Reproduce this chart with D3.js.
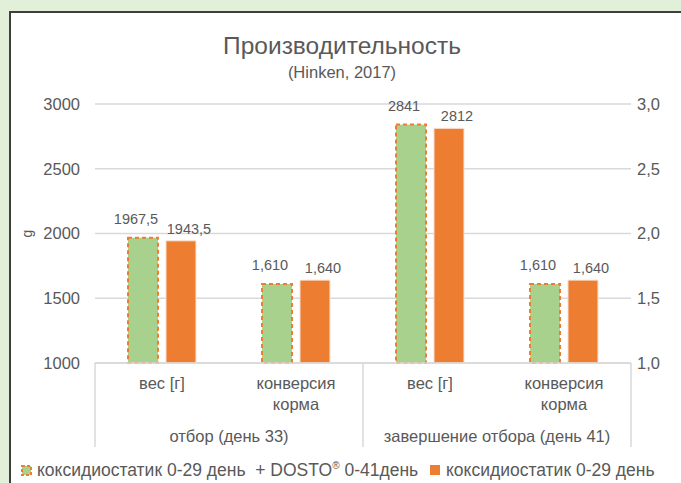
<!DOCTYPE html>
<html>
<head>
<meta charset="utf-8">
<script src="https://cdn.jsdelivr.net/npm/d3@7"></script>
<style>
  html, body { margin: 0; padding: 0; background: #e2efd9; }
  svg { display: block; font-family: 'Liberation Sans', Arial, sans-serif; }
</style>
</head>
<body>
<div id="chart"></div>
<script>
// data
const groups = ['отбор (день 33)', 'завершение отбора (день 41)'];
const categories = ['вес [г]', 'конверсия\nкорма', 'вес [г]', 'конверсия\nкорма'];
const categoryGroup = [0, 0, 1, 1];
const categoryAxis = ['left', 'right', 'left', 'right'];
const seriesNames = ['коксидиостатик 0-29 день  + DOSTO', 'коксидиостатик 0-29 день'];
const dostoValues = [1967.5, 1.61, 2841, 1.61];
const controlValues = [1943.5, 1.64, 2812, 1.64];
const leftTicks = [1000, 1500, 2000, 2500, 3000];
const rightTicks = [1.0, 1.5, 2.0, 2.5, 3.0];

const width = 681, height = 483;
const plot = { left: 95, right: 631, top: 104, bottom: 363 };
const textColor = '#595959';
const gridColor = '#d9d9d9';
const green = '#a9d18e';
const orange = '#ed7d31';

const svg = d3.select('#chart').append('svg')
  .attr('width', width)
  .attr('height', height);

// panel
svg.append('rect')
  .attr('x', 10).attr('y', 12)
  .attr('width', width).attr('height', height)
  .attr('fill', '#fff')
  .attr('stroke', '#3f3f3f')
  .attr('stroke-width', 2);

// title
svg.append('text')
  .attr('x', 342).attr('y', 54)
  .attr('text-anchor', 'middle')
  .attr('fill', textColor)
  .attr('font-size', 24.5)
  .text('Производительность');
svg.append('text')
  .attr('x', 342).attr('y', 78)
  .attr('text-anchor', 'middle')
  .attr('fill', textColor)
  .attr('font-size', 16.5)
  .text('(Hinken, 2017)');

// scales
const idx = d3.range(categories.length);
const x0 = d3.scaleBand().domain(idx).range([plot.left, plot.right]);
const x1 = d3.scaleBand().domain([0, 1]).range([0, x0.bandwidth()])
  .paddingInner(0.21).paddingOuter(0.87);
const yL = d3.scaleLinear().domain([1000, 3000]).range([plot.bottom, plot.top]);
const yR = d3.scaleLinear().domain([1, 3]).range([plot.bottom, plot.top]);
const yFor = (i) => (categoryAxis[i] === 'left' ? yL : yR);

// gridlines
svg.append('g')
  .selectAll('line')
  .data(leftTicks)
  .join('line')
  .attr('x1', plot.left).attr('x2', plot.right)
  .attr('y1', (d) => yL(d)).attr('y2', (d) => yL(d))
  .attr('stroke', gridColor)
  .attr('stroke-width', 1.5);

// left axis
const leftAxis = svg.append('g')
  .attr('transform', `translate(${plot.left - 15},0)`)
  .call(d3.axisLeft(yL).tickValues(leftTicks).tickFormat(d3.format('d')).tickSize(0).tickPadding(0));
leftAxis.select('.domain').remove();
leftAxis.selectAll('text')
  .attr('fill', textColor)
  .attr('font-size', 16.5)
  .attr('font-family', null);

// right axis
const fmtR = (d) => d.toFixed(1).replace('.', ',');
const rightAxis = svg.append('g')
  .attr('transform', `translate(${plot.right + 6},0)`)
  .call(d3.axisRight(yR).tickValues(rightTicks).tickFormat(fmtR).tickSize(0).tickPadding(0));
rightAxis.select('.domain').remove();
rightAxis.selectAll('text')
  .attr('fill', textColor)
  .attr('font-size', 16.5)
  .attr('font-family', null);

// y axis title
svg.append('text')
  .attr('transform', `translate(32,${yL(2000)}) rotate(-90)`)
  .attr('text-anchor', 'middle')
  .attr('fill', textColor)
  .attr('font-size', 14)
  .text('g');

// bars
const series = [
  { values: dostoValues, fill: green, stroke: orange, dash: '4,3', sw: 2, dx: -7, dy: -14 },
  { values: controlValues, fill: orange, stroke: '#fbe0cf', dash: null, sw: 1, dx: 8, dy: -7 },
];

const fmtVal = (v, i) => {
  if (categoryAxis[i] === 'right') return v.toFixed(3).replace('.', ',');
  return Number.isInteger(v) ? String(v) : v.toFixed(1).replace('.', ',');
};

series.forEach((s, si) => {
  const g = svg.append('g');
  g.selectAll('rect')
    .data(idx)
    .join('rect')
    .attr('x', (i) => x0(i) + x1(si))
    .attr('width', x1.bandwidth())
    .attr('y', (i) => yFor(i)(s.values[i]))
    .attr('height', (i) => plot.bottom - yFor(i)(s.values[i]))
    .attr('fill', s.fill)
    .attr('stroke', s.stroke)
    .attr('stroke-width', s.sw)
    .attr('stroke-dasharray', s.dash);

  g.selectAll('text')
    .data(idx)
    .join('text')
    .attr('x', (i) => x0(i) + x1(si) + x1.bandwidth() / 2 + s.dx)
    .attr('y', (i) => yFor(i)(s.values[i]) + s.dy)
    .attr('text-anchor', 'middle')
    .attr('fill', textColor)
    .attr('font-size', 14.5)
    .text((i) => fmtVal(s.values[i], i));
});

// multi-level category axis
const axisBottom = 447;
const boxes = svg.append('g')
  .attr('stroke', gridColor)
  .attr('stroke-width', 1.5);
boxes.append('line')
  .attr('x1', plot.left).attr('x2', plot.right)
  .attr('y1', plot.bottom).attr('y2', plot.bottom);
const groupEdges = [plot.left, x0(2), plot.right];
boxes.selectAll('line.sep')
  .data(groupEdges)
  .join('line')
  .attr('class', 'sep')
  .attr('x1', (d) => d).attr('x2', (d) => d)
  .attr('y1', plot.bottom).attr('y2', axisBottom);

const catText = svg.append('g')
  .attr('fill', textColor)
  .attr('font-size', 16.5)
  .attr('text-anchor', 'middle');
catText.selectAll('text')
  .data(idx)
  .join('text')
  .attr('x', (i) => x0(i) + x0.bandwidth() / 2)
  .attr('y', 389)
  .selectAll('tspan')
  .data((i) => categories[i].split('\n'))
  .join('tspan')
  .attr('x', function () { return d3.select(this.parentNode).attr('x'); })
  .attr('dy', (_, j) => (j ? 21 : 0))
  .text((d) => d);

svg.append('g')
  .attr('fill', textColor)
  .attr('font-size', 16.5)
  .attr('text-anchor', 'middle')
  .selectAll('text')
  .data(groups)
  .join('text')
  .attr('x', (_, gi) => {
    const members = idx.filter((i) => categoryGroup[i] === gi);
    return (x0(members[0]) + x0(members[members.length - 1]) + x0.bandwidth()) / 2;
  })
  .attr('y', 442)
  .text((d) => d);

// legend
const legend = svg.append('g').attr('font-size', 17.5).attr('fill', textColor);
legend.append('rect')
  .attr('x', 22).attr('y', 466).attr('width', 9).attr('height', 9)
  .attr('fill', green).attr('stroke', orange).attr('stroke-width', 2)
  .attr('stroke-dasharray', '3,2');
const t1 = legend.append('text').attr('x', 37).attr('y', 476)
  .attr('xml:space', 'preserve')
  .style('white-space', 'pre');
t1.append('tspan').text(seriesNames[0]);
t1.append('tspan').attr('font-size', 10).attr('dy', -7).text('®');
t1.append('tspan').attr('dy', 7).text(' 0-41день');
legend.append('rect')
  .attr('x', 430).attr('y', 465).attr('width', 10).attr('height', 10)
  .attr('fill', orange);
legend.append('text').attr('x', 446).attr('y', 476)
  .text(seriesNames[1]);
</script>
</body>
</html>
